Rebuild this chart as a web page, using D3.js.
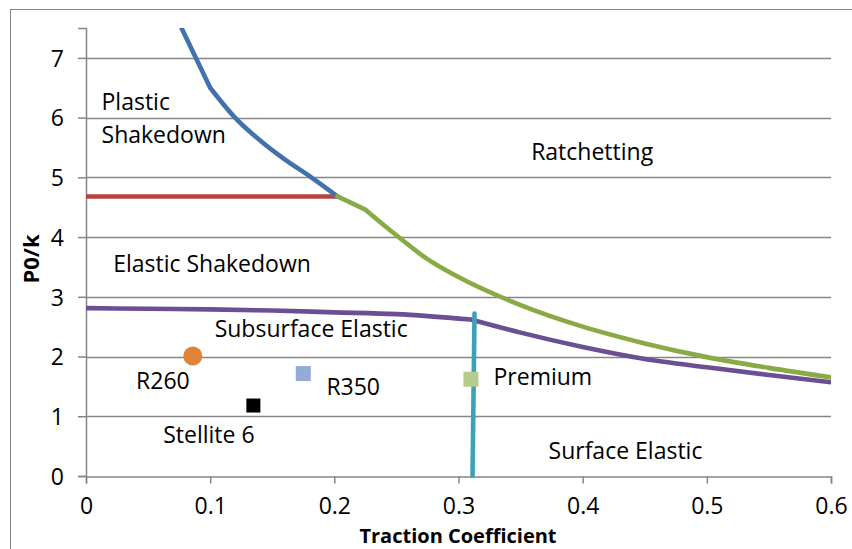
<!DOCTYPE html>
<html>
<head>
<meta charset="utf-8">
<script src="https://cdn.jsdelivr.net/npm/d3@7"></script>
<style>
  html, body { margin: 0; padding: 0; background: #fff; }
  svg { display: block; }
  text { font-family: "Open Sans", "DejaVu Sans", sans-serif; fill: #000; }
</style>
</head>
<body>
<svg id="chart" width="852" height="549"></svg>
<script>
// Regime boundaries (traction coefficient, P0/k)
const plasticShakedownX = [0.07, 0.1, 0.12, 0.14, 0.16, 0.18, 0.2025];
const plasticShakedownY = [7.8, 6.5, 6.0, 5.62, 5.3, 5.02, 4.68];

const elasticShakedownX = [0, 0.2025];
const elasticShakedownY = [4.68, 4.68];

const ratchettingX = [0.2025, 0.225, 0.25, 0.275, 0.3, 0.35, 0.4, 0.45, 0.5, 0.55, 0.6];
const ratchettingY = [4.68, 4.46, 4.03, 3.63, 3.33, 2.86, 2.5, 2.22, 1.99, 1.81, 1.65];

const subsurfaceX = [0, 0.05, 0.1, 0.15, 0.2, 0.25, 0.31, 0.35, 0.4, 0.45, 0.5, 0.55, 0.6];
const subsurfaceY = [2.81, 2.8, 2.79, 2.77, 2.74, 2.71, 2.62, 2.4, 2.16, 1.96, 1.82, 1.69, 1.57];

const surfaceX = [0.3129, 0.3113];
const surfaceY = [2.72, 0];

// Rail steels
const materials = ["R260", "Stellite 6", "R350", "Premium"];
const materialX = [0.086, 0.1348, 0.175, 0.31];
const materialY = [2.01, 1.18, 1.715, 1.62];

// Axis ticks
const xTicks = [0, 0.1, 0.2, 0.3, 0.4, 0.5, 0.6];
const yTicks = [0, 1, 2, 3, 4, 5, 6, 7];

// Region labels
const regionNames = ["Plastic", "Shakedown", "Ratchetting", "Elastic Shakedown", "Subsurface Elastic", "Surface Elastic"];
const regionX = [0.0125, 0.0125, 0.3585, 0.0219, 0.1036, 0.3725];
const regionY = [6.13, 5.57, 5.29, 3.41, 2.32, 0.28];

// Material label anchors
const materialLabelX = [0.0403, 0.0622, 0.1936, 0.3282];
const materialLabelY = [1.46, 0.55, 1.35, 1.52];

const svg = d3.select("#chart");
const W = 852, H = 549;
const m = { left: 86, right: 831, top: 28, bottom: 476 };

const x = d3.scaleLinear().domain([0, 0.6]).range([m.left, m.right]);
const y = d3.scaleLinear().domain([0, 7.5]).range([m.bottom, m.top]);

const grey = "#868686";
const fontSize = 23;

// outer frame
svg.append("rect")
  .attr("x", 10.5).attr("y", 9.5)
  .attr("width", W).attr("height", H)
  .attr("fill", "none").attr("stroke", grey).attr("stroke-width", 1);

// horizontal gridlines
svg.append("g")
  .selectAll("line")
  .data(yTicks.filter(d => d > 0))
  .join("line")
  .attr("x1", m.left).attr("x2", m.right)
  .attr("y1", d => Math.round(y(d)) + 0.5).attr("y2", d => Math.round(y(d)) + 0.5)
  .attr("stroke", grey).attr("stroke-width", 1.5);

// axes
const xAxis = d3.axisBottom(x).tickValues(xTicks).tickSize(7).tickPadding(14)
  .tickFormat(d => d === 0 ? "0" : d3.format(".1f")(d));
const yAxis = d3.axisLeft(y).tickValues(yTicks).tickSize(8).tickPadding(14)
  .tickFormat(d3.format("d"));

const gx = svg.append("g").attr("transform", `translate(0,${Math.round(y(0)) + 0.5})`).call(xAxis);
const gy = svg.append("g").attr("transform", `translate(${m.left},0)`).call(yAxis);
[gx, gy].forEach(g => {
  g.select(".domain").attr("stroke", grey).attr("stroke-width", 1.5);
  g.selectAll(".tick line").attr("stroke", grey).attr("stroke-width", 1.5);
  g.selectAll(".tick text").attr("font-size", fontSize).attr("fill", "#000")
    .attr("font-family", "\"Open Sans\", sans-serif");
});
gy.selectAll(".tick text").attr("dy", "0.36em");
gx.selectAll(".tick text").attr("dy", "0.72em");

// axis titles
svg.append("text")
  .attr("x", 458).attr("y", 543)
  .attr("text-anchor", "middle")
  .attr("font-weight", "bold").attr("font-size", 20)
  .text("Traction Coefficient");
svg.append("text")
  .attr("transform", `translate(39,259) rotate(-90)`)
  .attr("text-anchor", "middle")
  .attr("font-weight", "bold").attr("font-size", 22)
  .text("P0/k");

// boundary lines
const plot = svg.append("g");
plot.append("clipPath").attr("id", "clip")
  .append("rect").attr("x", m.left).attr("y", m.top)
  .attr("width", m.right - m.left).attr("height", m.bottom - m.top + 2);

const smooth = d3.line().x(d => x(d[0])).y(d => y(d[1])).curve(d3.curveMonotoneX);
const zip = (xs, ys) => xs.map((v, i) => [v, ys[i]]);

// each boundary is drawn as smooth pieces split at its corner points
const series = [
  { xs: elasticShakedownX, ys: elasticShakedownY, breaks: [], color: "#b9413e" },
  { xs: plasticShakedownX, ys: plasticShakedownY, breaks: [1], color: "#4371ad" },
  { xs: ratchettingX, ys: ratchettingY, breaks: [1], color: "#88ab46" },
  { xs: subsurfaceX, ys: subsurfaceY, breaks: [6], color: "#6c4f92" },
  { xs: surfaceX, ys: surfaceY, breaks: [], color: "#3ea1b9" }
];

function pieces(s) {
  const pts = zip(s.xs, s.ys);
  const cuts = [0, ...s.breaks, pts.length - 1];
  const out = [];
  for (let i = 0; i < cuts.length - 1; i++) out.push(pts.slice(cuts[i], cuts[i + 1] + 1));
  return out;
}

const lines = plot.append("g").attr("clip-path", "url(#clip)");
series.forEach(s => {
  lines.append("path")
    .attr("d", pieces(s).map(p => smooth(p)).join(""))
    .attr("fill", "none")
    .attr("stroke", s.color)
    .attr("stroke-width", 4.6)
    .attr("stroke-linejoin", "round")
    .attr("stroke-linecap", "round");
});

// material markers
const markerStyle = [
  { shape: "circle", size: 19, color: "#df8339" },
  { shape: "square", size: 14, color: "#000000" },
  { shape: "square", size: 15, color: "#93abd5" },
  { shape: "square", size: 15, color: "#b4cd8e" }
];
const markers = plot.append("g");
materials.forEach((name, i) => {
  const st = markerStyle[i];
  const cx = x(materialX[i]), cy = y(materialY[i]);
  if (st.shape === "circle") {
    markers.append("circle").attr("cx", cx).attr("cy", cy).attr("r", st.size / 2).attr("fill", st.color);
  } else {
    markers.append("rect").attr("x", cx - st.size / 2).attr("y", cy - st.size / 2)
      .attr("width", st.size).attr("height", st.size).attr("fill", st.color);
  }
});

// material labels
svg.append("g").selectAll("text")
  .data(materials)
  .join("text")
  .attr("x", (d, i) => x(materialLabelX[i]))
  .attr("y", (d, i) => y(materialLabelY[i]))
  .attr("font-size", fontSize)
  .text(d => d);

// region labels
svg.append("g").selectAll("text")
  .data(regionNames)
  .join("text")
  .attr("x", (d, i) => x(regionX[i]))
  .attr("y", (d, i) => y(regionY[i]))
  .attr("font-size", fontSize)
  .text(d => d);
</script>
</body>
</html>
